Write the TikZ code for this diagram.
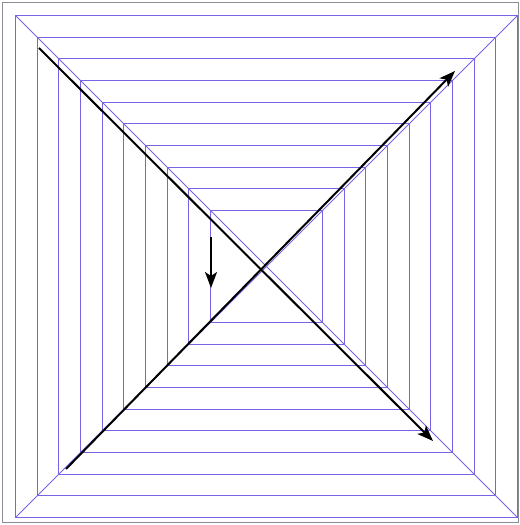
\documentclass[tikz,border=0pt]{standalone}
\usetikzlibrary{arrows.meta}
\definecolor{sqline}{RGB}{118,100,230}
\definecolor{frameg}{RGB}{140,140,150}
\tikzset{
  sq/.style={draw=sqline, line width=1bp},
  diag/.style={draw=sqline, line width=1bp},
  arr/.style={draw=black, line width=2bp, -{Stealth[length=16bp,width=12bp,inset=4bp]}},
  framebox/.style={draw=frameg, line width=1bp}
}
\begin{document}
\begin{tikzpicture}[x=1bp,y=-1bp]
\useasboundingbox (0,0) rectangle (520,525);
\draw[framebox] (2.5,2.5) rectangle (518.5,522.5);
\foreach \h in {56,78,99,121,143,164,186,208,229,251}{
  \draw[sq] (266.5-\h,266.5-\h) rectangle (266.5+\h,266.5+\h);
}
\coordinate (tl) at (15.5,15.5);
\coordinate (br) at (517.5,517.5);
\coordinate (bl) at (15.5,517.5);
\coordinate (tr) at (517.5,15.5);
\draw[diag] (tl) -- (br);
\draw[diag] (bl) -- (tr);
\coordinate (a1s) at (39,48);
\coordinate (a1e) at (433,441);
\coordinate (a2s) at (66,469);
\coordinate (a2e) at (455,71);
\coordinate (a3s) at (211,237);
\coordinate (a3e) at (211,288);
\draw[arr] (a1s) -- (a1e);
\draw[arr] (a2s) -- (a2e);
\draw[arr] (a3s) -- (a3e);
\end{tikzpicture}
\end{document}
